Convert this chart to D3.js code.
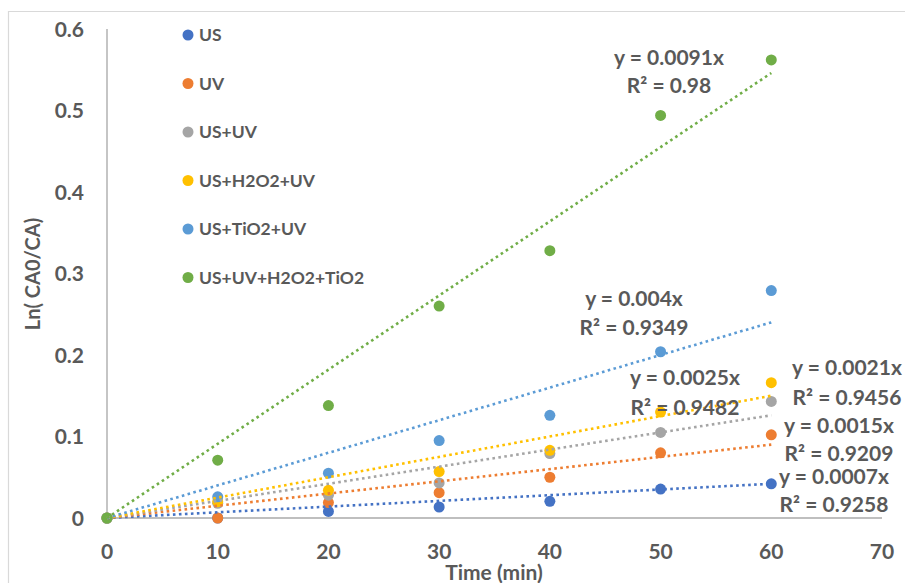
<!DOCTYPE html>
<html>
<head>
<meta charset="utf-8">
<script src="https://cdn.jsdelivr.net/npm/d3@7/dist/d3.min.js"></script>
<style>
  html, body { margin: 0; padding: 0; background: #fff; }
  svg { display: block; }
  text { font-family: Lato, "Open Sans", sans-serif; font-weight: bold; fill: #595959; }
</style>
</head>
<body>
<svg id="chart" width="905" height="583"></svg>
<script>
// ---- data ----
const times = [0, 10, 20, 30, 40, 50, 60];
const seriesNames = ["US", "UV", "US+UV", "US+H2O2+UV", "US+TiO2+UV", "US+UV+H2O2+TiO2"];
const seriesColors = ["#4472C4", "#ED7D31", "#A5A5A5", "#FFC000", "#5B9BD5", "#70AD47"];
const valuesUS        = [0, 0.000, 0.008, 0.0135, 0.0205, 0.0355, 0.042];
const valuesUV        = [0, 0.000, 0.019, 0.031, 0.050, 0.080, 0.102];
const valuesUSUV      = [0, 0.018, 0.028, 0.043, 0.079, 0.105, 0.143];
const valuesUSH2O2UV  = [0, 0.020, 0.034, 0.057, 0.083, 0.130, 0.166];
const valuesUSTiO2UV  = [0, 0.026, 0.055, 0.095, 0.126, 0.204, 0.279];
const valuesAll       = [0, 0.071, 0.138, 0.260, 0.328, 0.494, 0.562];
const slopes   = [0.0007, 0.0015, 0.0021, 0.0025, 0.004, 0.0091];
const r2Values = ["0.9258", "0.9209", "0.9456", "0.9482", "0.9349", "0.98"];
const xTicks = [0, 10, 20, 30, 40, 50, 60, 70];
const yTicks = [0, 0.1, 0.2, 0.3, 0.4, 0.5, 0.6];
const xTitle = "Time (min)";
const yTitle = "Ln( CA0/CA)";

const allValues = [valuesUS, valuesUV, valuesUSUV, valuesUSH2O2UV, valuesUSTiO2UV, valuesAll];

// ---- layout ----
const svg = d3.select("#chart");
const x = d3.scaleLinear().domain([0, 70]).range([107, 882]);
const y = d3.scaleLinear().domain([0, 0.6]).range([518, 29]);

// equation label layout (center x, line1 y, line2 y) in pixels
const labelPos = [
  [834, 476, 504],
  [839, 425, 453],
  [847, 367, 397],
  [685, 377, 407],
  [634, 298, 327],
  [669, 57, 85]
];

// outer border
svg.append("path")
  .attr("d", "M8.5,583 L8.5,11.5 L905,11.5")
  .attr("fill", "none").attr("stroke", "#D9D9D9").attr("stroke-width", 1.2);

// axes lines
svg.append("line").attr("x1", x(0)).attr("x2", x(0)).attr("y1", y(0.6)).attr("y2", y(0))
  .attr("stroke", "#BFBFBF").attr("stroke-width", 1.8);
svg.append("line").attr("x1", x(0)).attr("x2", x(70)).attr("y1", y(0)).attr("y2", y(0))
  .attr("stroke", "#BFBFBF").attr("stroke-width", 1.8);

// tick labels
svg.append("g").selectAll("text").data(yTicks).join("text")
  .attr("x", 84).attr("y", d => y(d)).attr("dy", "0.36em")
  .attr("text-anchor", "end").style("font-size", "21px")
  .text(d => d === 0 ? "0" : d3.format(".1f")(d));
svg.append("g").selectAll("text").data(xTicks).join("text")
  .attr("x", d => x(d)).attr("y", 551).attr("dy", "0.36em")
  .attr("text-anchor", "middle").style("font-size", "21px")
  .text(d => d);

// axis titles
svg.append("text").attr("x", 494).attr("y", 572).attr("dy", "0.36em")
  .attr("text-anchor", "middle").style("font-size", "21px").text(xTitle);
svg.append("text").attr("transform", "translate(33,274) rotate(-90)").attr("dy", "0.36em")
  .attr("text-anchor", "middle").style("font-size", "20px").text(yTitle);

// points
allValues.forEach((vals, i) => {
  svg.append("g").selectAll("circle").data(vals.map((v, j) => [times[j], v])).join("circle")
    .attr("cx", d => x(d[0])).attr("cy", d => y(d[1])).attr("r", 5.5)
    .attr("fill", seriesColors[i]);
});

// trendlines
slopes.forEach((s, i) => {
  svg.append("line")
    .attr("x1", x(0)).attr("y1", y(0)).attr("x2", x(60)).attr("y2", y(s * 60))
    .attr("stroke", seriesColors[i]).attr("stroke-width", 2.6)
    .attr("stroke-dasharray", "2.6,3.4");
});

// equation labels
slopes.forEach((s, i) => {
  const p = labelPos[i];
  const g = svg.append("g").style("font-size", "21px").attr("text-anchor", "middle");
  g.append("text").attr("x", p[0]).attr("y", p[1]).attr("dy", "0.36em").text("y = " + s + "x");
  g.append("text").attr("x", p[0]).attr("y", p[2]).attr("dy", "0.36em").text("R² = " + r2Values[i]);
});

// legend
const legend = svg.append("g");
seriesNames.forEach((n, i) => {
  const ly = 35 + i * 48.5;
  legend.append("circle").attr("cx", 188).attr("cy", ly).attr("r", 5.5).attr("fill", seriesColors[i]);
  legend.append("text").attr("x", 199).attr("y", ly).attr("dy", "0.36em")
    .style("font-size", "17.5px").text(n);
});
</script>
</body>
</html>
